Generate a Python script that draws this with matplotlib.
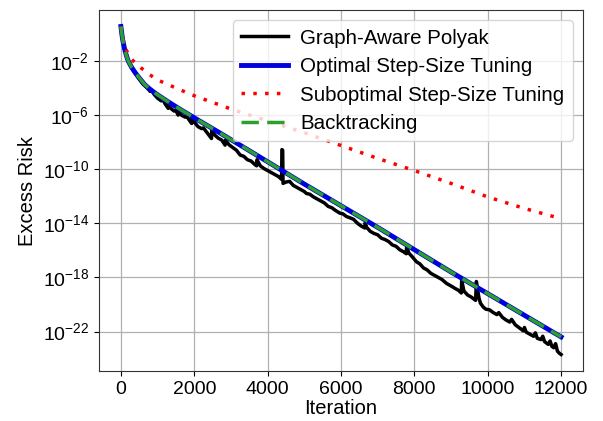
import matplotlib.pyplot as plt
import numpy as np

plt.rcParams['font.family'] = ['Liberation Sans', 'DejaVu Sans']

# (iteration, log10 excess risk)
polyak = [
    (0, 0.55), (50, -0.45), (100, -1.15), (200, -2.05), (300, -2.55), (400, -2.95),
    (500, -3.35), (600, -3.7), (700, -3.95), (800, -4.25), (850, -4.2), (900, -4.45),
    (1000, -4.75), (1100, -4.95), (1150, -4.85), (1200, -5.15), (1290, -5.5), (1300, -5.25),
    (1380, -5.55), (1450, -5.7), (1500, -5.65), (1560, -6.0), (1570, -5.6), (1650, -6.0),
    (1750, -6.15), (1800, -6.1), (1870, -6.4), (1930, -6.62), (1940, -6.25), (2000, -6.5),
    (2100, -6.85), (2200, -7.0), (2250, -6.95), (2350, -7.3), (2470, -7.73), (2480, -6.95),
    (2550, -7.45), (2650, -7.7), (2750, -7.85), (2840, -8.22), (2850, -7.85), (2950, -8.2),
    (3050, -8.4), (3150, -8.6), (3250, -8.95), (3350, -9.05), (3450, -9.3), (3550, -9.4),
    (3650, -9.65), (3700, -9.75), (3710, -9.3), (3800, -9.75), (3900, -9.95), (4000, -10.1),
    (4100, -10.25), (4200, -10.4), (4300, -10.55), (4380, -10.75), (4390, -8.55),
    (4410, -8.6), (4420, -11.05), (4500, -10.95), (4600, -10.9), (4700, -11.2),
    (4800, -11.35), (4900, -11.5), (5000, -11.65), (5060, -11.8), (5150, -11.85),
    (5250, -12.05), (5350, -12.2), (5450, -12.35), (5550, -12.5), (5650, -12.75),
    (5750, -12.85), (5850, -13.05), (5970, -13.25), (6050, -13.3), (6150, -13.5),
    (6250, -13.6), (6340, -13.7), (6450, -14.0), (6550, -14.2), (6650, -14.35),
    (6660, -13.95), (6700, -14.3), (6800, -14.6), (6900, -14.75), (7000, -14.85),
    (7100, -15.1), (7200, -15.2), (7300, -15.35), (7400, -15.6), (7500, -15.7),
    (7600, -15.95), (7700, -16.1), (7780, -16.25), (7790, -15.7), (7850, -16.2),
    (7950, -16.5), (8060, -16.85), (8150, -17.0), (8250, -17.3), (8350, -17.45),
    (8450, -17.7), (8550, -17.85), (8650, -18.0), (8750, -18.15), (8880, -18.45),
    (8980, -18.6), (9100, -18.8), (9200, -18.95), (9280, -19.15), (9290, -18.2),
    (9350, -19.0), (9450, -19.3), (9550, -19.45), (9670, -19.7), (9690, -18.3),
    (9760, -19.5), (9800, -19.9), (9880, -20.2), (9950, -20.35), (10050, -20.4),
    (10150, -20.6), (10250, -20.75), (10300, -20.6), (10400, -20.95), (10500, -21.15),
    (10600, -21.3), (10650, -21.1), (10750, -21.5), (10850, -21.7), (10970, -21.95),
    (11000, -21.7), (11050, -22.05), (11150, -22.2), (11250, -22.35), (11300, -22.1),
    (11350, -22.5), (11450, -22.6), (11500, -22.35), (11550, -22.75), (11650, -22.95),
    (11700, -22.7), (11750, -23.1), (11800, -23.2), (11850, -22.9), (11900, -23.45),
    (11950, -23.6), (12000, -23.7),
]

smooth_it = [0, 25, 50, 100, 150, 200, 300, 400, 500, 650, 800, 1000, 1250, 1650, 2000,
             2650, 3250, 4000, 5000, 6000, 7000, 8000, 9000, 10000, 11000, 12000]
optimal_log = [0.55, 0.0, -0.45, -1.1, -1.6, -2.0, -2.5, -2.9, -3.25, -3.75, -4.1, -4.5,
               -4.95, -5.63, -6.2, -7.24, -8.22, -9.45, -11.1, -12.7, -14.3, -15.95,
               -17.6, -19.2, -20.8, -22.4]
backtrack_log = [0.55, 0.0, -0.45, -1.1, -1.6, -2.0, -2.5, -2.9, -3.25, -3.75, -4.1, -4.5,
                 -4.95, -5.63, -6.2, -7.24, -8.22, -9.45, -11.1, -12.7, -14.3, -15.95,
                 -17.6, -19.2, -20.8, -22.4]

subopt_it = [0, 50, 100, 200, 300, 500, 750, 1000, 1500, 2000, 3000, 4000, 5000, 6000,
             7000, 8000, 9000, 10000, 11000, 12000]
subopt_log = [0.55, -0.3, -0.9, -1.5, -1.9, -2.4, -2.95, -3.4, -4.0, -4.57, -5.55, -6.43,
              -7.3, -8.25, -9.2, -10.1, -11.05, -12.05, -12.9, -13.66]

polyak_it = [p[0] for p in polyak]
polyak_log = [p[1] for p in polyak]

fig, ax = plt.subplots(figsize=(6.03, 4.21), dpi=100)
fig.subplots_adjust(left=0.164, right=0.967, top=0.976, bottom=0.119)

ax.plot(polyak_it, 10.0 ** np.array(polyak_log), color='black', lw=2.5,
        label='Graph-Aware Polyak')
ax.plot(smooth_it, 10.0 ** np.array(optimal_log), color='#0000dd', lw=3.5,
        label='Optimal Step-Size Tuning')
ax.plot(subopt_it, 10.0 ** np.array(subopt_log), color='red', lw=2.5, ls=':',
        dashes=(1, 2.4), label='Suboptimal Step-Size Tuning')
ax.plot(smooth_it, 10.0 ** np.array(backtrack_log), color='#2ca02c', lw=2.5, ls='--',
        dashes=(5, 2.4), label='Backtracking')

ax.set_yscale('log')
ax.set_yticks([1e-22, 1e-18, 1e-14, 1e-10, 1e-6, 1e-2])
ax.yaxis.set_minor_locator(plt.NullLocator())
ax.set_xticks(range(0, 12001, 2000))
ax.tick_params(labelsize=14)
ax.grid(True, color='#b0b0b0', lw=0.9)
for s in ax.spines.values():
    s.set_color('#333333')

ax.set_xlabel('Iteration', fontsize=14.5, labelpad=1)
ax.set_ylabel('Excess Risk', fontsize=14.5)
ax.legend(loc='upper right', fontsize=14.8, handlelength=2.3, handletextpad=0.6,
          borderpad=0.4, labelspacing=0.46)

fig.savefig('out.png', dpi=100)
